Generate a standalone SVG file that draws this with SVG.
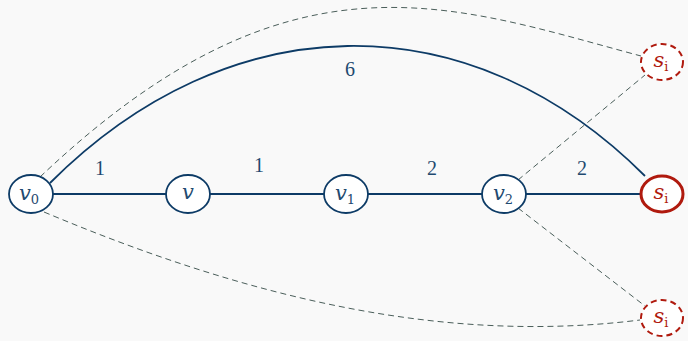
<svg xmlns="http://www.w3.org/2000/svg" width="688" height="341" viewBox="0 0 688 341">
<style>
.bg{fill:#f9f9f9}
.n{fill:#ffffff;stroke:#0d3b66;stroke-width:1.8}
.r{fill:#ffffff;stroke:#b01a0e;stroke-width:3}
.rd{fill:#ffffff;stroke:#b01a0e;stroke-width:2;stroke-dasharray:6 4}
.e{fill:none;stroke:#0d3b66;stroke-width:1.8}
.d{fill:none;stroke:#4a5e5a;stroke-width:1;stroke-dasharray:6 4}
.t{font-style:italic;font-size:21px;fill:#1f4a70;text-anchor:middle}
.tr{font-style:italic;font-size:21px;fill:#b01a0e;text-anchor:middle}
.sub{font-size:13px;font-style:normal}
.l{font-size:20px;fill:#1f4a70;text-anchor:middle}
</style>
<rect class="bg" x="0" y="0" width="688" height="341"/>
<g font-family="DejaVu Serif, serif">
<g id="connectors">
<path class="d" d="M 40 177 C 290 -60, 450 5, 641 56"/>
<path class="d" d="M 44 212 C 244 296, 440 345, 640 320"/>
<path class="d" d="M 518 180 L 645 75"/>
<path class="d" d="M 518 208 L 645 306"/>
<path class="e" d="M 53 194 L 166 194"/>
<path class="e" d="M 210 194 L 324 194"/>
<path class="e" d="M 368 194 L 482 194"/>
<path class="e" d="M 526 194 L 640 194"/>
<path class="e" d="M 50 183 C 228 5, 467 -2, 645 176"/>
<text class="l" x="100" y="175" font-family="Liberation Serif">1</text>
<text class="l" x="259" y="172" font-family="Liberation Serif">1</text>
<text class="l" x="432" y="175" font-family="Liberation Serif">2</text>
<text class="l" x="582" y="175" font-family="Liberation Serif">2</text>
<text class="l" x="350" y="76" font-family="Liberation Serif">6</text>
</g>
<g id="v0"><ellipse class="n" cx="31" cy="194" rx="22" ry="19"/><text class="t" x="29" y="200">v<tspan class="sub" dy="4">0</tspan></text></g>
<g id="v"><ellipse class="n" cx="188" cy="194" rx="22" ry="19"/><text class="t" x="188" y="199">v</text></g>
<g id="v1"><ellipse class="n" cx="346" cy="194" rx="22" ry="19"/><text class="t" x="345" y="200">v<tspan class="sub" dy="4">1</tspan></text></g>
<g id="v2"><ellipse class="n" cx="504" cy="194" rx="22" ry="19"/><text class="t" x="503" y="200">v<tspan class="sub" dy="4">2</tspan></text></g>
<g id="si"><ellipse class="r" cx="662" cy="194" rx="21" ry="18"/><text class="tr" x="661" y="199">s<tspan class="sub" dy="4">i</tspan></text></g>
<g id="si_top"><ellipse class="rd" cx="662" cy="62" rx="21" ry="18"/><text class="tr" x="661" y="67">s<tspan class="sub" dy="4">i</tspan></text></g>
<g id="si_bottom"><ellipse class="rd" cx="662" cy="318" rx="21" ry="18"/><text class="tr" x="661" y="323">s<tspan class="sub" dy="4">i</tspan></text></g>
</g>
</svg>
